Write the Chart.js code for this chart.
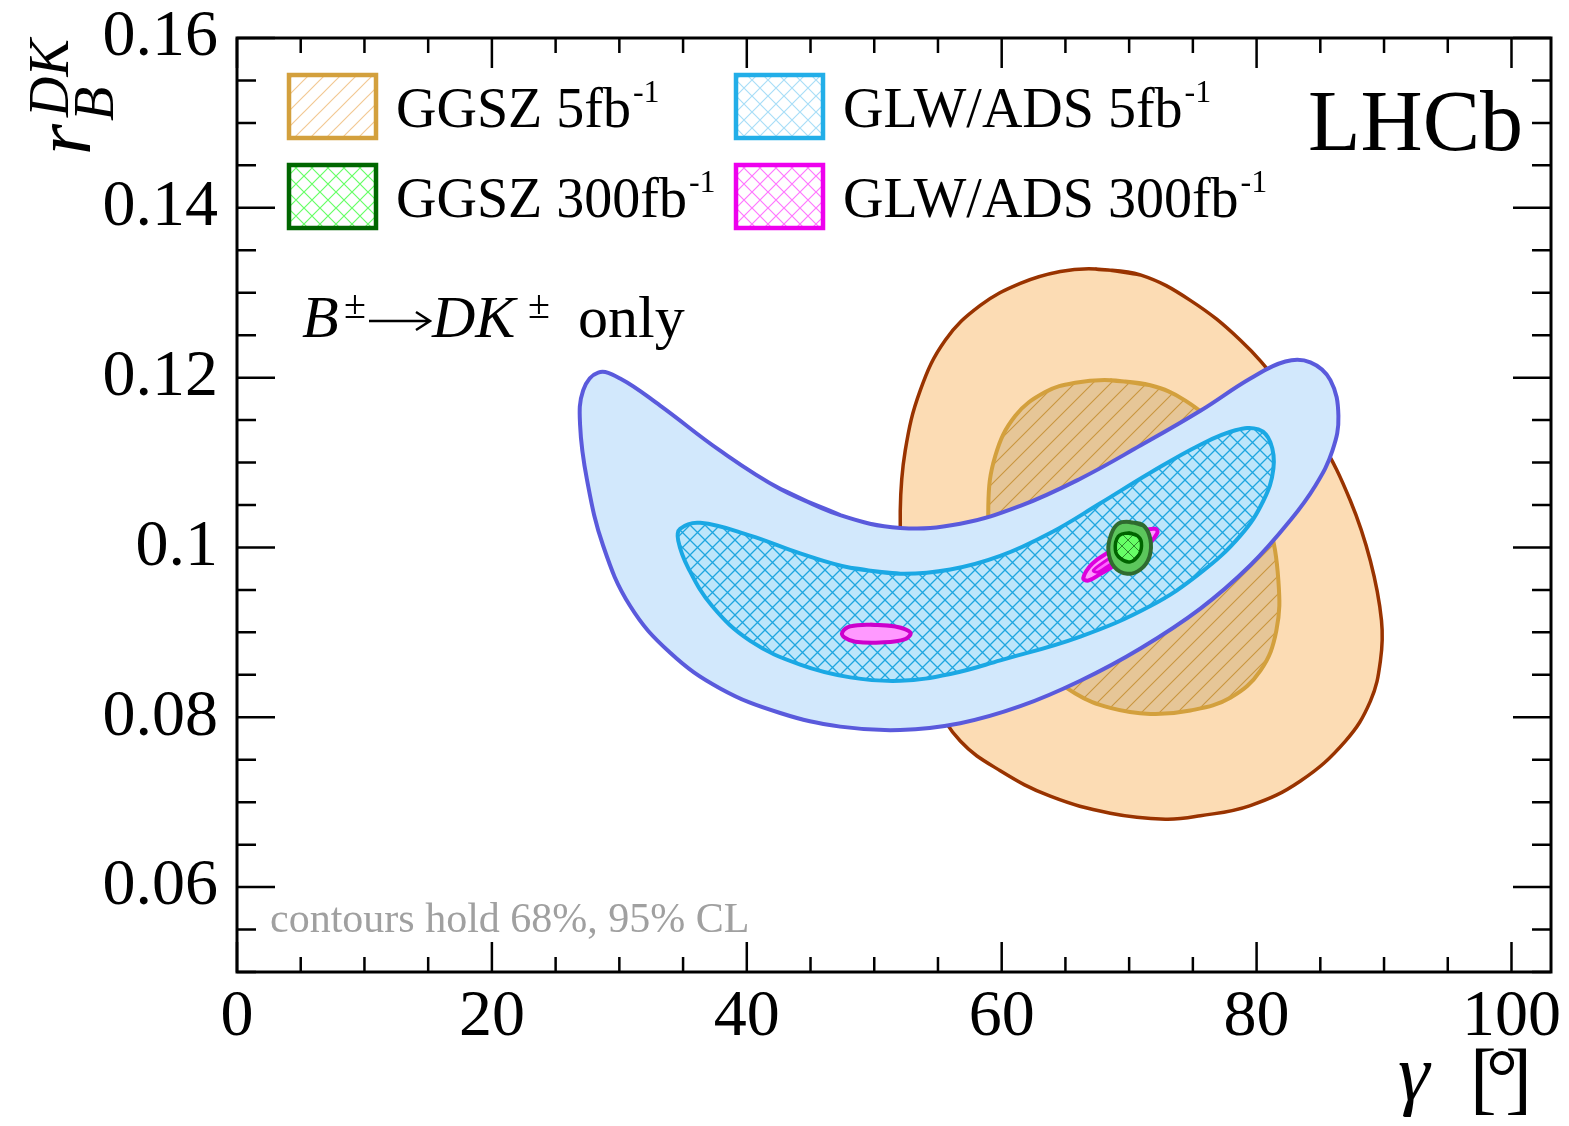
<!DOCTYPE html>
<html>
<head>
<meta charset="utf-8">
<script src="https://cdn.jsdelivr.net/npm/chart.js@4.4.1/dist/chart.umd.min.js"></script>
<style>
  html, body { margin: 0; padding: 0; background: #fff; }
  #c { display: block; }
</style>
</head>
<body>
<canvas id="c" width="1569" height="1126"></canvas>
<script>
const xTicks = [0, 20, 40, 60, 80, 100];
const yTicks = [0.06, 0.08, 0.1, 0.12, 0.14, 0.16];
const yTickLabels = ['0.06', '0.08', '0.1', '0.12', '0.14', '0.16'];

// contours, [gamma, rB]
const ggsz5_95 = [[67.35,0.1328],[70.88,0.1321],[74.80,0.1291],[78.73,0.1244],[81.87,0.1191],[85.01,0.1126],[87.36,0.1055],[88.93,0.0984],[89.80,0.0914],[89.72,0.0867],[88.93,0.0819],[86.97,0.0772],[83.44,0.0725],[79.51,0.0696],[75.59,0.0684],[72.84,0.0680],[68.52,0.0687],[63.81,0.0707],[59.89,0.0737],[56.75,0.0772],[54.79,0.0819],[53.22,0.0890],[52.28,0.0973],[52.04,0.1043],[52.43,0.1114],[53.61,0.1185],[55.57,0.1244],[58.32,0.1285],[61.46,0.1311],[64.60,0.1325],[67.35,0.1328]];
const ggsz5_68 = [[68.52,0.1197],[71.66,0.1191],[74.41,0.1173],[77.16,0.1138],[79.51,0.1091],[80.93,0.1032],[81.71,0.0961],[81.55,0.0902],[80.30,0.0855],[77.94,0.0823],[74.80,0.0808],[71.66,0.0804],[68.52,0.0811],[65.78,0.0828],[63.03,0.0861],[60.68,0.0914],[59.34,0.0979],[58.95,0.1049],[59.50,0.1108],[61.07,0.1155],[63.42,0.1183],[65.78,0.1194],[68.52,0.1197]];
const glw5_95 = [[42.62,0.1069],[47.33,0.1038],[52.04,0.1023],[56.75,0.1028],[61.46,0.1049],[66.17,0.1081],[70.88,0.1120],[75.59,0.1161],[79.51,0.1199],[82.26,0.1219],[84.22,0.1218],[85.79,0.1197],[86.42,0.1155],[85.95,0.1114],[84.62,0.1073],[82.65,0.1032],[79.51,0.0979],[75.59,0.0928],[70.88,0.0881],[66.17,0.0843],[61.46,0.0813],[56.75,0.0793],[52.04,0.0785],[47.33,0.0789],[42.62,0.0805],[37.91,0.0834],[33.99,0.0876],[30.85,0.0931],[28.73,0.1002],[27.47,0.1079],[26.92,0.1144],[27.16,0.1185],[28.34,0.1206],[30.06,0.1199],[33.20,0.1167],[37.91,0.1114],[42.62,0.1069]];
const glw5_68 = [[48.12,0.0976],[52.04,0.0969],[55.97,0.0974],[59.89,0.0990],[63.81,0.1017],[67.74,0.1052],[71.66,0.1088],[75.59,0.1121],[78.34,0.1138],[80.14,0.1139],[81.08,0.1124],[81.32,0.1093],[80.53,0.1055],[78.73,0.1014],[75.59,0.0970],[71.66,0.0931],[66.17,0.0895],[59.89,0.0867],[55.97,0.0851],[52.04,0.0843],[48.12,0.0847],[44.19,0.0862],[40.27,0.0890],[37.28,0.0931],[35.40,0.0976],[34.62,0.1008],[34.77,0.1022],[36.34,0.1029],[40.27,0.1014],[44.19,0.0993],[48.12,0.0976]];
const glw300_95a = [[49.69,0.0909],[51.65,0.0907],[52.83,0.0900],[52.43,0.0892],[50.47,0.0888],[48.51,0.0889],[47.65,0.0894],[47.49,0.0900],[48.12,0.0907],[49.69,0.0909]];
const glw300_95b = [[68.45,0.0995],[69.86,0.1008],[70.96,0.1019],[72.06,0.1022],[72.21,0.1017],[71.51,0.1004],[70.41,0.0994],[69.07,0.0981],[67.66,0.0968],[66.80,0.0961],[66.40,0.0964],[67.11,0.0981],[68.45,0.0995]];
const glw300_68 = [[69.31,0.0995],[70.49,0.1006],[71.27,0.1012],[70.88,0.1002],[69.70,0.0990],[68.52,0.0980],[67.58,0.0971],[67.19,0.0973],[68.13,0.0984],[69.31,0.0995]];
const ggsz300_95 = [[70.02,0.1030],[71.11,0.1026],[71.66,0.1010],[71.59,0.0989],[70.88,0.0974],[69.86,0.0969],[68.84,0.0977],[68.37,0.0996],[68.60,0.1016],[69.15,0.1028],[70.02,0.1030]];
const ggsz300_68 = [[69.94,0.1017],[70.64,0.1014],[70.96,0.1006],[70.80,0.0992],[70.09,0.0983],[69.31,0.0987],[68.92,0.0997],[69.15,0.1013],[69.94,0.1017]];

const SERIF = "'Liberation Serif', 'Times New Roman', serif";
const canvas = document.getElementById('c');
const ctx0 = canvas.getContext('2d');

function hatch(bg, fg, size, lw, cross) {
  const t = document.createElement('canvas');
  t.width = t.height = size;
  const g = t.getContext('2d');
  if (bg) { g.fillStyle = bg; g.fillRect(0, 0, size, size); }
  g.strokeStyle = fg;
  g.lineWidth = lw;
  g.beginPath();
  g.moveTo(0, size); g.lineTo(size, 0);
  g.moveTo(-size / 2, size / 2); g.lineTo(size / 2, -size / 2);
  g.moveTo(size / 2, size * 1.5); g.lineTo(size * 1.5, size / 2);
  if (cross) {
    g.moveTo(0, 0); g.lineTo(size, size);
    g.moveTo(-size / 2, size / 2); g.lineTo(size / 2, size * 1.5);
    g.moveTo(size / 2, -size / 2); g.lineTo(size * 1.5, size / 2);
  }
  g.stroke();
  return ctx0.createPattern(t, 'repeat');
}

// closed loop: repeat the 2nd point so the join is smooth too
const pts = arr => arr.concat([arr[1]]).map(([x, y]) => ({ x, y }));

function contour(arr, stroke, fill, width, order) {
  return {
    data: pts(arr),
    showLine: true,
    fill: 'shape',
    tension: 0.4,
    borderColor: stroke,
    borderWidth: width,
    backgroundColor: fill,
    pointRadius: 0,
    pointHoverRadius: 0,
    order
  };
}

// legend, frame, ticks and labels drawn on top
const decor = {
  id: 'decor',
  afterDraw(chart) {
    const ctx = chart.ctx;
    const { left, right, top, bottom } = chart.chartArea;
    const xs = chart.scales.x, ys = chart.scales.y;
    ctx.save();
    ctx.strokeStyle = '#000';
    ctx.lineWidth = 2.5;
    ctx.beginPath();
    for (let v = 0; v <= 100.01; v += 5) {
      const p = xs.getPixelForValue(v);
      const len = Math.abs(v % 20) < 0.01 ? 30 : 15;
      ctx.moveTo(p, bottom); ctx.lineTo(p, bottom - len);
      ctx.moveTo(p, top); ctx.lineTo(p, top + len);
    }
    for (let i = 0; i <= 22; i++) {
      const v = 0.05 + i * 0.005;
      const p = ys.getPixelForValue(v);
      const major = yTicks.some(t => Math.abs(t - v) < 1e-6);
      const len = major ? 38 : 19;
      ctx.moveTo(left, p); ctx.lineTo(left + len, p);
      ctx.moveTo(right, p); ctx.lineTo(right - len, p);
    }
    ctx.stroke();
    ctx.lineWidth = 3;
    ctx.strokeRect(left, top, right - left, bottom - top);

    // legend
    const items = [
      { x: 289, y: 75, label: 'GGSZ 5fb', border: '#d3a03d', pat: hatch('#fff', '#f2c994', 16, 1.2, false) },
      { x: 289, y: 165, label: 'GGSZ 300fb', border: '#006600', pat: hatch('#fff', '#66ff66', 16, 1.2, true) },
      { x: 736, y: 75, label: 'GLW/ADS 5fb', border: '#22aee8', pat: hatch('#fff', '#a9def7', 16, 1.2, true) },
      { x: 736, y: 165, label: 'GLW/ADS 300fb', border: '#ee00ee', pat: hatch('#fff', '#ff77ff', 16, 1.2, true) }
    ];
    items.forEach(it => {
      ctx.fillStyle = it.pat;
      ctx.fillRect(it.x, it.y, 87, 63);
      ctx.lineWidth = 4.5;
      ctx.strokeStyle = it.border;
      ctx.strokeRect(it.x, it.y, 87, 63);
      ctx.fillStyle = '#000';
      ctx.textBaseline = 'alphabetic';
      ctx.textAlign = 'left';
      ctx.font = `56px ${SERIF}`;
      const tx = it.x + 107;
      ctx.fillText(it.label, tx, it.y + 52);
      const w = ctx.measureText(it.label).width;
      ctx.font = `32px ${SERIF}`;
      ctx.fillText('-1', tx + w + 2, it.y + 27);
    });

    // LHCb
    ctx.font = `86px ${SERIF}`;
    ctx.textAlign = 'right';
    ctx.fillText('LHCb', 1523, 150);

    // decay label
    ctx.textAlign = 'left';
    ctx.font = `italic 60px ${SERIF}`;
    ctx.fillText('B', 302, 337);
    ctx.font = `40px ${SERIF}`;
    ctx.fillText('\u00b1', 344, 318);
    ctx.lineWidth = 2.5;
    ctx.strokeStyle = '#000';
    ctx.beginPath();
    ctx.moveTo(369, 321); ctx.lineTo(429, 321);
    ctx.moveTo(416, 312); ctx.lineTo(430, 321); ctx.lineTo(416, 330);
    ctx.stroke();
    ctx.font = `italic 60px ${SERIF}`;
    ctx.fillText('DK', 432, 337);
    ctx.font = `40px ${SERIF}`;
    ctx.fillText('\u00b1', 528, 318);
    ctx.font = `60px ${SERIF}`;
    ctx.fillText('only', 578, 337);

    // CL note
    ctx.fillStyle = '#a0a0a0';
    ctx.font = `42px ${SERIF}`;
    ctx.fillText('contours hold 68%, 95% CL', 270, 932);

    // x title
    ctx.fillStyle = '#000';
    ctx.font = `italic 80px ${SERIF}`;
    ctx.fillText('\u03b3', 1398, 1100);
    ctx.font = `80px ${SERIF}`;
    ctx.fillText('[', 1470, 1104);
    ctx.fillText('\u00b0', 1486, 1104);
    ctx.textAlign = 'right';
    ctx.fillText(']', 1532, 1104);

    // y title
    ctx.save();
    ctx.translate(90, 155);
    ctx.rotate(-Math.PI / 2);
    ctx.textAlign = 'left';
    ctx.font = `italic 80px ${SERIF}`;
    ctx.fillText('r', 0, 0);
    ctx.font = `italic 56px ${SERIF}`;
    ctx.fillText('DK', 38, -22);
    ctx.fillText('B', 34, 23);
    ctx.restore();

    ctx.restore();
  }
};

new Chart(canvas, {
  type: 'scatter',
  data: {
    datasets: [
      contour(ggsz300_68, '#006400', hatch('#66ff66', '#2e8b2e', 12, 1, true), 3.5, 1),
      contour(ggsz300_95, '#2f6b2f', '#5cc65c', 4, 2),
      contour(glw300_68, '#dd00dd', '#ff66ff', 3, 3),
      contour(glw300_95a, '#cc00cc', '#ff99ff', 4, 4),
      contour(glw300_95b, '#dd00dd', '#ff99ff', 4, 4),
      contour(glw5_68, '#1aa8e4', hatch('#bde6fb', '#1ea6df', 15, 1.3, true), 4, 6),
      contour(glw5_95, '#5a5adc', '#d2e8fc', 4, 7),
      contour(ggsz5_68, '#d3a03d', hatch('#e6c697', '#c9963f', 18, 1.1, false), 4, 8),
      contour(ggsz5_95, '#993300', '#fcdcb4', 3.5, 9)
    ]
  },
  options: {
    responsive: false,
    animation: false,
    events: [],
    layout: { padding: { left: 0, top: 38, right: 18, bottom: 0 } },
    plugins: {
      legend: { display: false },
      tooltip: { enabled: false }
    },
    scales: {
      x: {
        type: 'linear',
        min: 0,
        max: 103.1,
        grid: { display: false, drawTicks: false },
        border: { display: false },
        afterBuildTicks(s) { s.ticks = xTicks.map(v => ({ value: v })); },
        afterFit(s) { s.height = 154; s.paddingLeft = 0; s.paddingRight = 0; },
        ticks: {
          autoSkip: false,
          maxRotation: 0,
          padding: 6,
          color: '#000',
          font: { family: SERIF, size: 66 },
          callback: v => String(v)
        }
      },
      y: {
        type: 'linear',
        min: 0.05,
        max: 0.16,
        grid: { display: false, drawTicks: false },
        border: { display: false },
        afterBuildTicks(s) { s.ticks = yTicks.map(v => ({ value: v })); },
        afterFit(s) { s.width = 237; s.paddingTop = 0; s.paddingBottom = 0; },
        ticks: {
          autoSkip: false,
          padding: 19,
          color: '#000',
          font: { family: SERIF, size: 66 },
          callback: (v, i) => yTickLabels[i]
        }
      }
    }
  },
  plugins: [decor]
});
</script>
</body>
</html>
